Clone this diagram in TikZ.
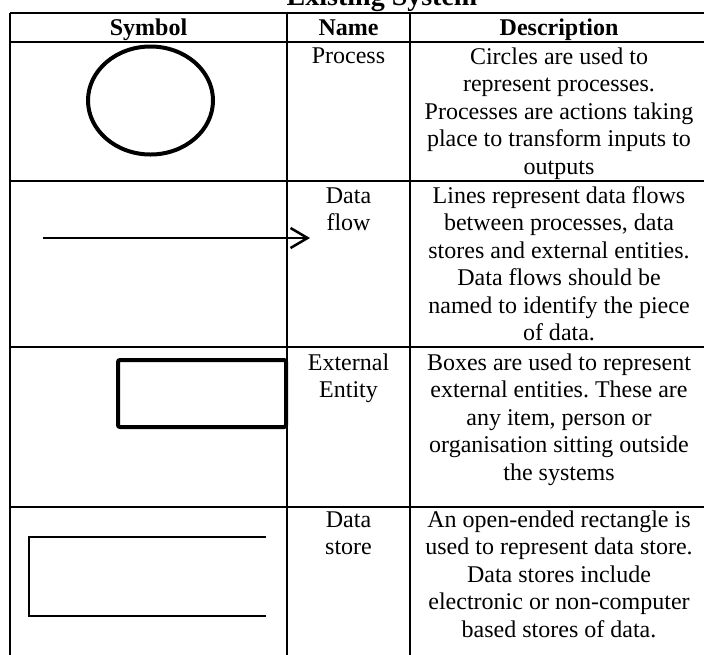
\documentclass[tikz,border=0pt]{standalone}
\usepackage{fontspec}
\setmainfont{Liberation Serif}
\usetikzlibrary{arrows.meta,shapes.geometric}
\frenchspacing
\begin{document}
\begin{tikzpicture}[x=0.5pt,y=-0.5pt,
  rule/.style={line width=1.3pt},
  headtext/.style={font=\fontsize{12}{13.7}\selectfont\bfseries, inner sep=0pt, anchor=base},
  titletext/.style={font=\fontsize{14}{16}\selectfont\bfseries, inner sep=0pt, anchor=base},
  celltext/.style={font=\fontsize{12}{13.7}\selectfont, inner sep=0pt, align=center,
                   anchor=north, yshift=9.59pt},
  flowline/.style={line width=1.25pt, -{Straight Barb[length=8.5pt,width=10pt,line width=1.25pt]}},
]
% page area
\useasboundingbox (0,0) rectangle (704,654);
\fill[white] (0,0) rectangle (704,654);
\clip (0,0) rectangle (704,654);

% caption
\node[titletext] (title) at (382,5) {Existing System};

% table rules
\draw[rule] (10,13) -- (720,13);
\draw[rule] (10,42) -- (720,42);
\draw[rule] (10,181) -- (720,181);
\draw[rule] (10,347) -- (720,347);
\draw[rule] (10,507) -- (720,507);
\draw[rule] (10,13) -- (10,670);
\draw[rule] (287,13) -- (287,670);
\draw[rule] (410,13) -- (410,670);
\draw[rule] (712,13) -- (712,670);

% header
\node[headtext] (hsym)  at (148.5,35) {Symbol};
\node[headtext] (hname) at (348.5,35) {Name};
\node[headtext] (hdesc) at (559,35) {Description};

% row 1: process
\node[draw, ellipse, line width=2pt, inner sep=0pt, minimum width=62.5pt, minimum height=54pt]
  (procsym) at (150.5,100.5) {};
\node[celltext] (procname) at (348.5,63) {\strut Process};
\node[celltext] (procdesc) at (559,64) {\strut Circles are used to\\represent processes.\\Processes are actions taking\\place to transform inputs to\\outputs};

% row 2: data flow
\coordinate (flowA) at (43,238);
\coordinate (flowB) at (310,238);
\draw[flowline] (flowA) -- (flowB);
\node[celltext] (flowname) at (348.5,203) {\strut Data\\flow};
\node[celltext] (flowdesc) at (559,203) {\strut Lines represent data flows\\between processes, data\\stores and external entities.\\Data flows should be\\named to identify the piece\\of data.};

% row 3: external entity
\node[draw, line width=2pt, rounded corners=1pt, inner sep=0pt, minimum width=84pt, minimum height=33.5pt]
  (entsym) at (202,393.5) {};
\node[celltext] (entname) at (348.5,370) {\strut External\\Entity};
\node[celltext] (entdesc) at (559,370) {\strut Boxes are used to represent\\external entities. These are\\any item, person or\\organisation sitting outside\\the systems};

% row 4: data store
\draw[line width=1.2pt] (266,537) -- (29,537) -- (29,616) -- (266,616);
\node[celltext] (storename) at (348.5,527) {\strut Data\\store};
\node[celltext] (storedesc) at (559,527) {\strut An open-ended rectangle is\\used to represent data store.\\Data stores include\\electronic or non-computer\\based stores of data.};
\end{tikzpicture}
\end{document}
